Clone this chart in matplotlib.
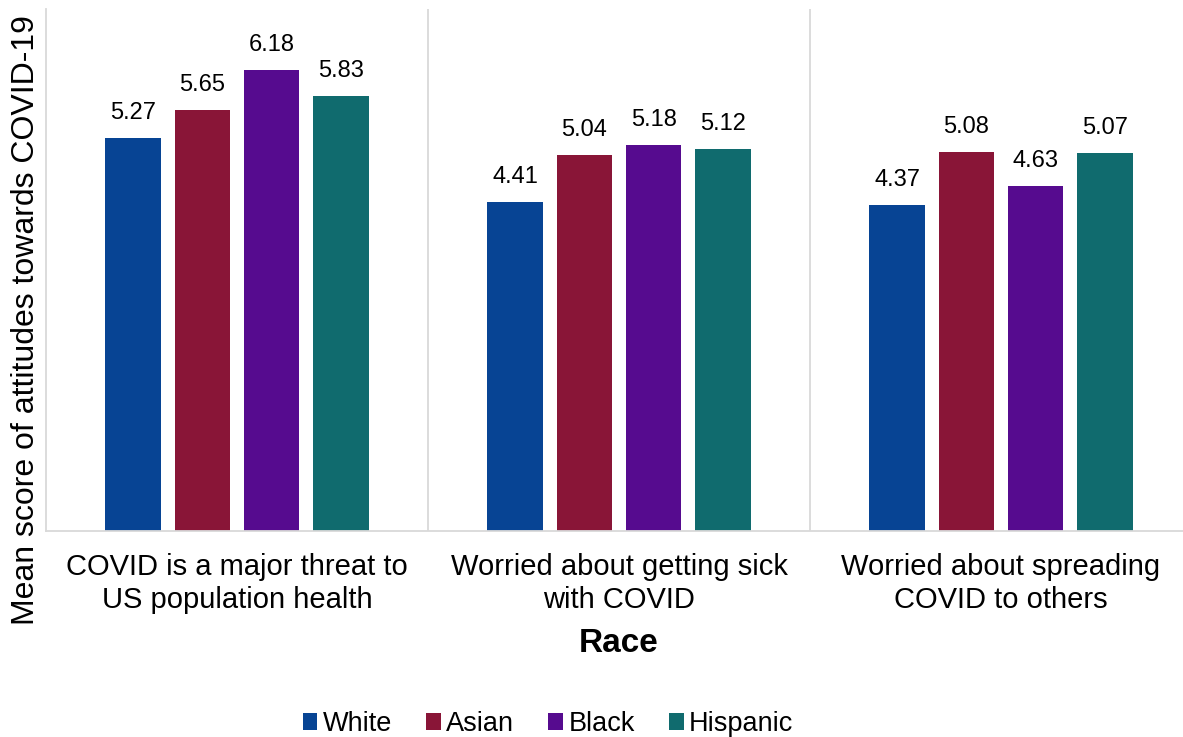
import matplotlib.pyplot as plt
import numpy as np

plt.rcParams['font.family'] = ['Liberation Sans', 'DejaVu Sans']

categories = ['COVID is a major threat to\nUS population health',
              'Worried about getting sick\nwith COVID',
              'Worried about spreading\nCOVID to others']
races = ['White', 'Asian', 'Black', 'Hispanic']
white = [5.27, 4.41, 4.37]
asian = [5.65, 5.04, 5.08]
black = [6.18, 5.18, 4.63]
hispanic = [5.83, 5.12, 5.07]
colors = ['#074494', '#891537', '#560b8f', '#106b6e']

fig = plt.figure(figsize=(11.83, 7.37), dpi=100)
ax = fig.add_axes([46 / 1183, 1 - 531 / 737, 1 - 46 / 1183, (531 - 9) / 737])

x = np.arange(len(categories))
offsets = [-0.272, -0.091, 0.091, 0.272]
for vals, off, col, lab in zip([white, asian, black, hispanic], offsets, colors, races):
    bars = ax.bar(x + off, vals, width=0.145, color=col, label=lab)
    for b, v in zip(bars, vals):
        ax.annotate('%.2f' % v, (b.get_x() + b.get_width() / 2, v),
                    xytext=(0, 10), textcoords='offset points',
                    ha='center', va='bottom', fontsize=17)

# group separators
for d in [0.5, 1.5]:
    ax.axvline(d, color='#d9d9d9', lw=1.3)

ax.set_xlim(-0.5, -0.5 + 1137 / 382)
ax.set_ylim(0, 7)
ax.set_yticks([])
ax.set_xticks(x)
ax.set_xticklabels(categories, fontsize=21, linespacing=1.22)
ax.tick_params(axis='x', length=0, pad=16)
for s in ['top', 'right']:
    ax.spines[s].set_visible(False)
for s in ['left', 'bottom']:
    ax.spines[s].set_color('#d9d9d9')
    ax.spines[s].set_linewidth(1.3)

ax.set_ylabel('Mean score of attitudes towards COVID-19', fontsize=23)
ax.yaxis.set_label_coords(-0.004, 0.404)
fig.text(619 / 1183, 1 - 644 / 737, 'Race', fontsize=24, fontweight='bold',
         ha='center', va='center')

fig.legend(loc='center', bbox_to_anchor=(548 / 1183, 1 - 724 / 737), ncol=4,
           frameon=False, fontsize=19.5, handlelength=0.55, handleheight=0.55,
           handletextpad=0.2, columnspacing=1.25)

fig.savefig('out.png', dpi=100)
